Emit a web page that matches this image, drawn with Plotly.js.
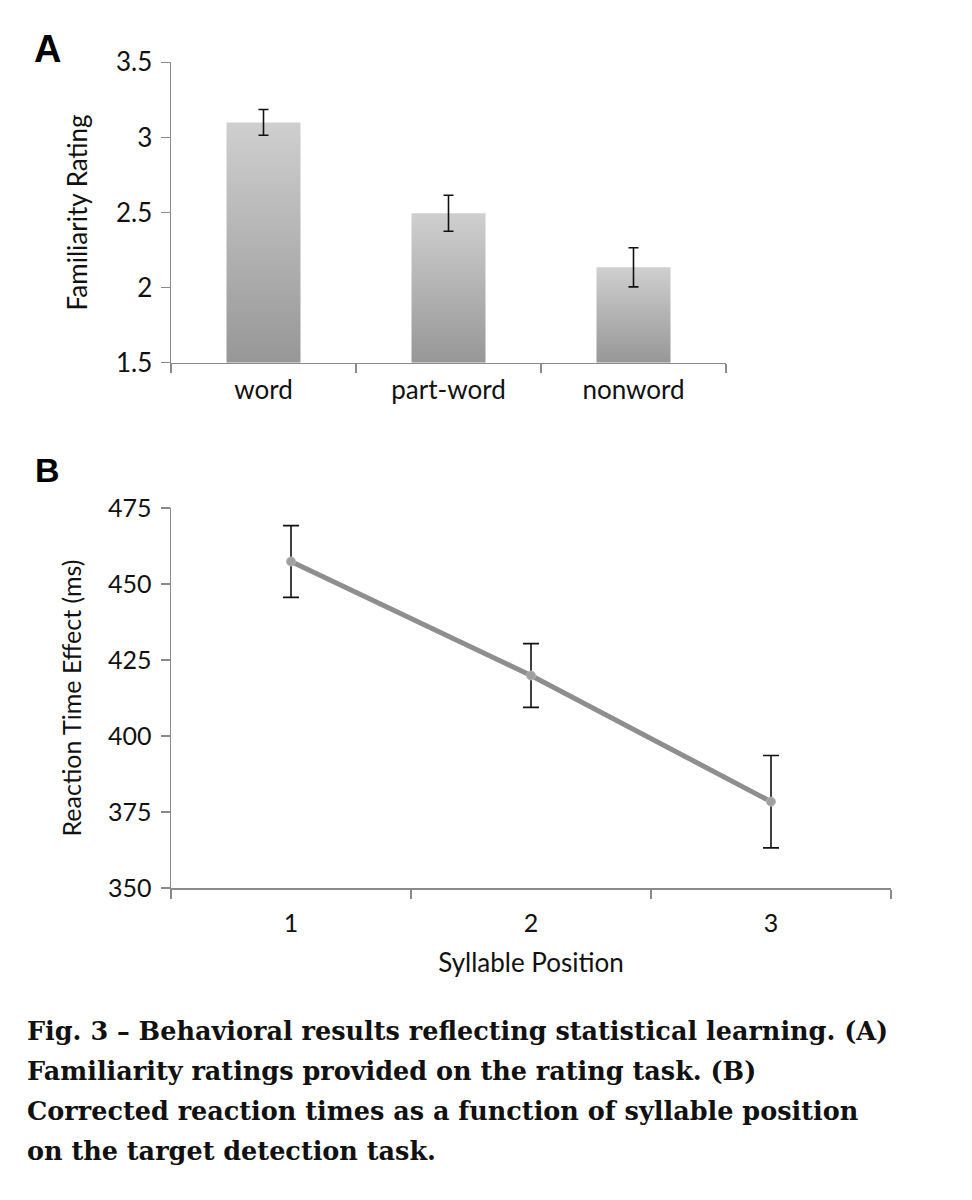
<!DOCTYPE html>
<html>
<head>
<meta charset="utf-8">
<script src="https://cdn.plot.ly/plotly-3.0.1.min.js"></script>
<style>
  html, body { margin: 0; padding: 0; background: #fff; }
  #chart { width: 972px; height: 1200px; }
</style>
</head>
<body>
<div id="chart"></div>
<script>
// Panel A data
var categoriesA = ["word", "part-word", "nonword"];
var ratingA = [3.10, 2.495, 2.135];
var ratingErrA = [0.086, 0.12, 0.13];
var yTicksA = [1.5, 2, 2.5, 3, 3.5];

// Panel B data
var positionsB = ["1", "2", "3"];
var rtEffectB = [457.4, 419.9, 378.4];
var rtErrB = [11.8, 10.5, 15.2];
var yTicksB = [350, 375, 400, 425, 450, 475];

var captionLines = [
  "Fig. 3 \u2013 Behavioral results reflecting statistical learning. (A)",
  "Familiarity ratings provided on the rating task. (B)",
  "Corrected reaction times as a function of syllable position",
  "on the target detection task."
];

var W = 972, H = 1200;
function px(x) { return x / W; }
function py(y) { return 1 - y / H; }

var sans = "Lato, 'Open Sans', sans-serif";
var tickFontA = { family: sans, size: 26, color: "#111" };
var tickFontB = { family: sans, size: 25, color: "#111" };
var axisColor = "#8a8a8a";
var baseA = 1.5;

var traces = [
  {
    type: "bar",
    x: categoriesA,
    y: ratingA.map(function (v) { return v - baseA; }),
    base: baseA,
    xaxis: "x",
    yaxis: "y",
    marker: { color: "#b4b4b4", line: { width: 0 } },
    error_y: { type: "data", array: ratingErrA, visible: true, color: "#111", thickness: 1.6, width: 5 },
    hoverinfo: "none"
  },
  {
    type: "scatter",
    mode: "lines+markers",
    x: positionsB,
    y: rtEffectB,
    xaxis: "x2",
    yaxis: "y2",
    line: { color: "#8e8e8e", width: 5 },
    marker: { size: 9, color: "#a0a0a0", line: { color: "#b8b8b8", width: 1 } },
    error_y: { type: "data", array: rtErrB, visible: true, color: "#111", thickness: 1.6, width: 8 },
    hoverinfo: "none"
  }
];

var annotations = [
  { text: "<b>A</b>", x: px(47), y: py(49), xref: "paper", yref: "paper",
    xanchor: "center", yanchor: "middle", showarrow: false,
    font: { family: "'Liberation Sans', Arial, sans-serif", size: 38, color: "#000" } },
  { text: "<b>B</b>", x: px(47), y: py(470), xref: "paper", yref: "paper",
    xanchor: "center", yanchor: "middle", showarrow: false,
    font: { family: "'Liberation Sans', Arial, sans-serif", size: 34, color: "#000" } }
];
captionLines.forEach(function (line, i) {
  annotations.push({
    text: "<b>" + line + "</b>",
    x: px(25), y: py(1031 + i * 40), xref: "paper", yref: "paper",
    xanchor: "left", yanchor: "middle", showarrow: false,
    font: { family: "'DejaVu Serif', serif", size: 25.5, color: "#111" }
  });
});

var layout = {
  width: W, height: H,
  margin: { l: 0, r: 0, t: 0, b: 0 },
  paper_bgcolor: "#fff", plot_bgcolor: "#fff",
  showlegend: false,
  bargap: 0.6,
  xaxis: {
    domain: [px(171), px(726)],
    anchor: "y",
    type: "category",
    range: [-0.5, 2.5],
    tickson: "boundaries",
    ticks: "outside", ticklen: 9, tickcolor: axisColor, tickwidth: 1.5,
    showline: true, linecolor: axisColor, linewidth: 1.5,
    showgrid: false, zeroline: false,
    tickfont: tickFontA, ticklabelstandoff: 4,
    fixedrange: true
  },
  yaxis: {
    domain: [py(362.7), py(62.3)],
    anchor: "x",
    range: [1.5, 3.5],
    tickvals: yTicksA,
    ticktext: yTicksA.map(String),
    ticks: "outside", ticklen: 9, tickcolor: axisColor, tickwidth: 1.5,
    showline: true, linecolor: axisColor, linewidth: 1.5,
    showgrid: false, zeroline: false,
    tickfont: tickFontA, ticklabelstandoff: 3,
    title: { text: "Familiarity Rating", font: { family: sans, size: 26, color: "#111" }, standoff: 21 },
    fixedrange: true
  },
  xaxis2: {
    domain: [px(171), px(891)],
    anchor: "y2",
    type: "category",
    range: [-0.5, 2.5],
    tickson: "boundaries",
    ticks: "outside", ticklen: 9, tickcolor: axisColor, tickwidth: 1.5,
    showline: true, linecolor: axisColor, linewidth: 1.5,
    showgrid: false, zeroline: false,
    tickfont: tickFontB, ticklabelstandoff: 12,
    title: { text: "Syllable Position", font: { family: sans, size: 26, color: "#111" }, standoff: 18 },
    fixedrange: true
  },
  yaxis2: {
    domain: [py(888), py(508)],
    anchor: "x2",
    range: [350, 475],
    tickvals: yTicksB,
    ticktext: yTicksB.map(String),
    ticks: "outside", ticklen: 9, tickcolor: axisColor, tickwidth: 1.5,
    showline: true, linecolor: axisColor, linewidth: 1.5,
    showgrid: false, zeroline: false,
    tickfont: tickFontB, ticklabelstandoff: 4,
    title: { text: "Reaction Time Effect (ms)", font: { family: sans, size: 25, color: "#111" }, standoff: 19 },
    fixedrange: true
  },
  annotations: annotations
};

Plotly.newPlot("chart", traces, layout, { staticPlot: true, displayModeBar: false }).then(function (gd) {
  // vertical gradient fill for the bars (light top, darker bottom)
  var svg = gd.querySelector("svg.main-svg");
  var ns = "http://www.w3.org/2000/svg";
  var defs = svg.querySelector("defs") || svg.insertBefore(document.createElementNS(ns, "defs"), svg.firstChild);
  var grad = document.createElementNS(ns, "linearGradient");
  grad.setAttribute("id", "barGrad");
  grad.setAttribute("x1", "0"); grad.setAttribute("y1", "0");
  grad.setAttribute("x2", "0"); grad.setAttribute("y2", "1");
  [["0", "#cfcfcf"], ["1", "#979797"]].forEach(function (s) {
    var st = document.createElementNS(ns, "stop");
    st.setAttribute("offset", s[0]);
    st.setAttribute("stop-color", s[1]);
    grad.appendChild(st);
  });
  defs.appendChild(grad);
  gd.querySelectorAll(".barlayer .point path").forEach(function (p) {
    p.style.fill = "url(#barGrad)";
  });
});
</script>
</body>
</html>
